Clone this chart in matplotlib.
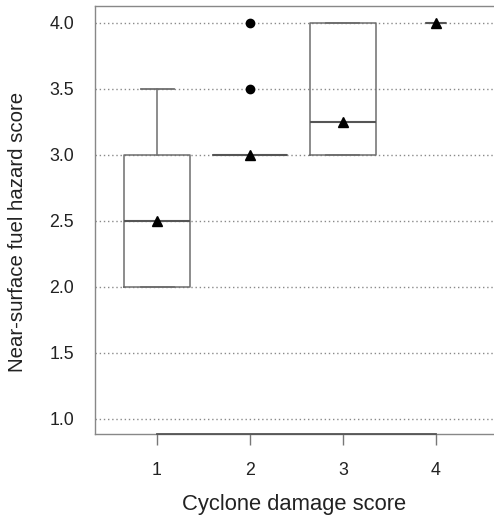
import matplotlib.pyplot as plt

plt.rcParams['font.family'] = ['Liberation Sans', 'DejaVu Sans']

# boxplot summary per cyclone damage score
damage = [1, 2, 3, 4]
q1 = [2.0, 3.0, 3.0, 4.0]
median = [2.5, 3.0, 3.25, 4.0]
q3 = [3.0, 3.0, 4.0, 4.0]
whis_lo = [2.0, 3.0, 3.0, 4.0]
whis_hi = [3.5, 3.0, 4.0, 4.0]
means = [2.5, 3.0, 3.25, 4.0]
outliers = [[], [3.5, 4.0], [], []]
box_widths = [0.71, 0.80, 0.71, 0.215]

yticks = [1.0, 1.5, 2.0, 2.5, 3.0, 3.5, 4.0]

stats = []
for i in range(len(damage)):
    stats.append({'med': median[i], 'q1': q1[i], 'q3': q3[i],
                  'whislo': whis_lo[i], 'whishi': whis_hi[i],
                  'mean': means[i], 'fliers': outliers[i]})

fig = plt.figure(figsize=(4.94, 5.2), dpi=100)
ax = fig.add_axes([0.1923, 0.1648, 0.8077, 0.8237])

grey = '#6e6e6e'
ax.set_ylim(0.884, 4.126)
ax.set_xlim(0.333, 4.624)
for y in yticks:
    ax.axhline(y, color='#8a8a8a', linestyle=(0, (1, 2)), linewidth=1.0, zorder=0)

ax.bxp(stats, positions=damage, widths=box_widths, showmeans=True,
       boxprops=dict(color=grey, linewidth=1.1),
       whiskerprops=dict(color=grey, linewidth=1.1),
       capprops=dict(color=grey, linewidth=1.3),
       capwidths=[w / 2 for w in box_widths],
       medianprops=dict(color='#555555', linewidth=1.5),
       meanprops=dict(marker='^', markerfacecolor='black', markeredgecolor='black', markersize=7),
       flierprops=dict(marker='o', markerfacecolor='black', markeredgecolor='black', markersize=6))

for side in ['top', 'left', 'bottom']:
    ax.spines[side].set_color('#888888')
    ax.spines[side].set_linewidth(1.0)
ax.spines['right'].set_visible(False)

ax.plot([1, 4], [0.884, 0.884], color='#555555', linewidth=1.3, clip_on=False, zorder=5)

ax.set_xticks(damage)
ax.set_xticklabels([str(d) for d in damage])
ax.set_yticks(yticks)
ax.set_yticklabels([f'{y:.1f}' for y in yticks])
ax.tick_params(axis='x', length=8, width=1.0, color='#777777', pad=12, labelsize=12.8, labelcolor='#222222')
ax.tick_params(axis='y', length=0, pad=15, labelsize=12.8, labelcolor='#222222')

ax.set_xlabel('Cyclone damage score', fontsize=15.8, color='#222222', labelpad=11)
ax.set_ylabel('Near-surface fuel hazard score', fontsize=14.7, color='#222222')
ax.yaxis.set_label_coords(-0.17, 0.472)

fig.savefig('out.png', dpi=100)
